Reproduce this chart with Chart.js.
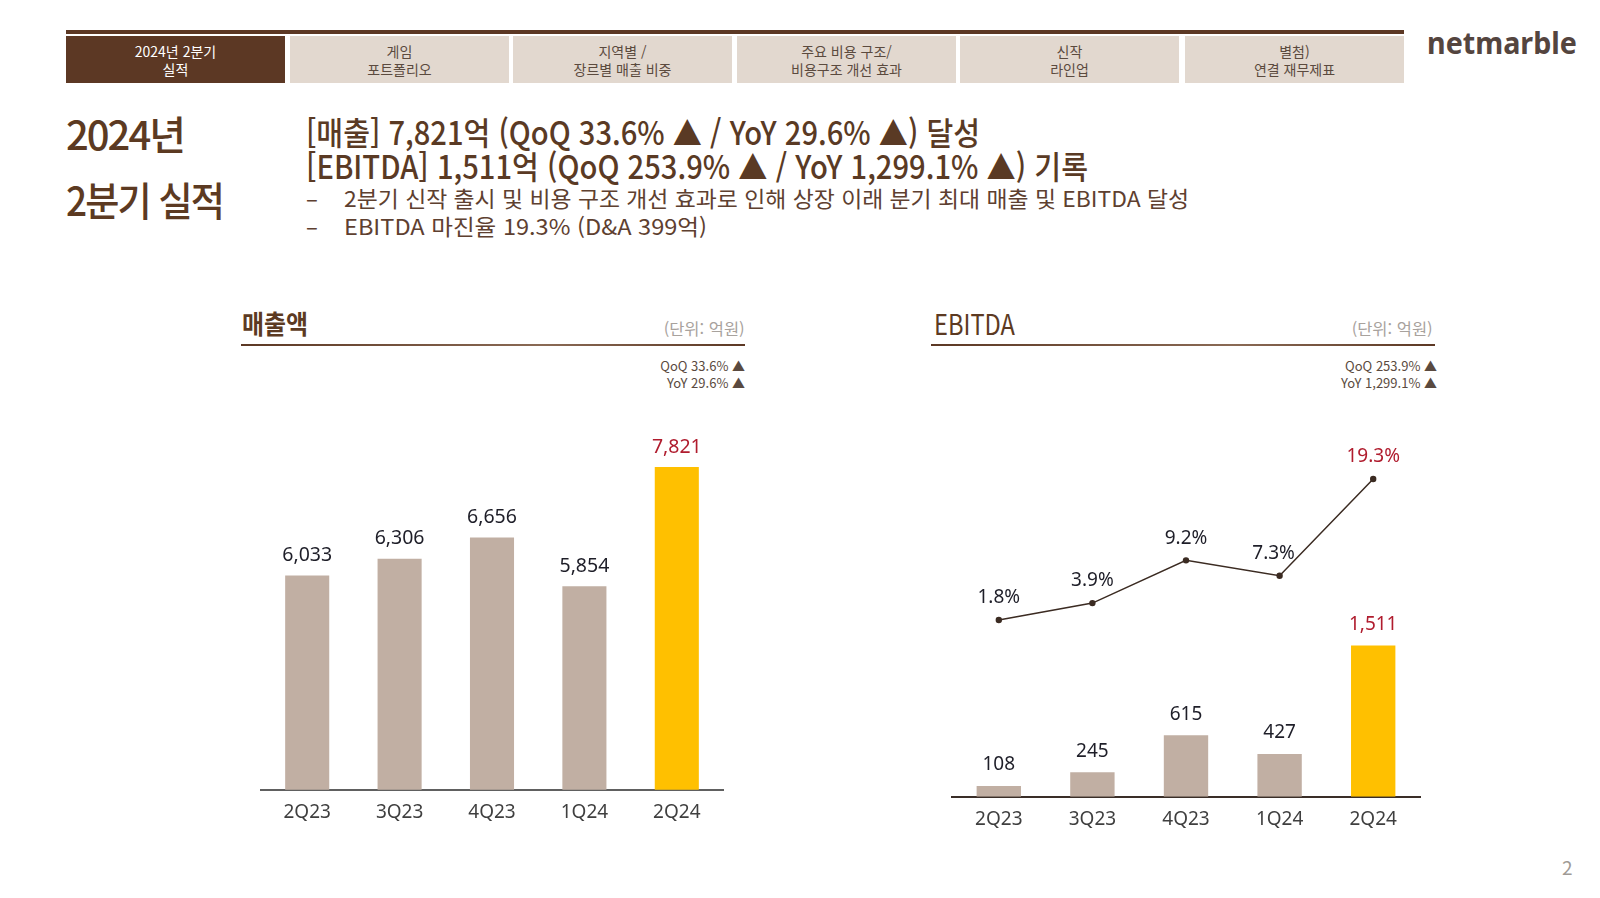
<!DOCTYPE html>
<html lang="ko">
<head>
<meta charset="utf-8">
<script src="https://cdn.jsdelivr.net/npm/chart.js@4.4.1/dist/chart.umd.min.js"></script>
<style>
  html, body { margin: 0; padding: 0; background: #fff; }
  #stage { position: relative; width: 1600px; height: 898px; overflow: hidden; background: #fff;
           font-family: "Noto Sans CJK KR", "Noto Sans", sans-serif; }
  .abs { position: absolute; white-space: nowrap; }
  .fit { display: inline-block; transform-origin: left center; }
  .fitr { display: inline-block; transform-origin: right center; }
  .tab { position: absolute; top: 36px; height: 47px; width: 219px; background: #e2d8cf; color: #5b4a3e;
         font-size: 14px; line-height: 18px; text-align: center; display: flex; align-items: center; justify-content: center; }
  .tab.active { background: #5c3824; color: #fff; }
  canvas { position: absolute; }
</style>
</head>
<body>
<div id="stage">
  <div class="abs" style="left:66px;top:30px;width:1338px;height:4px;background:#5c3824"></div>
  <div class="tab active" style="left:66px">2024년 2분기<br>실적</div>
  <div class="tab" style="left:290px">게임<br>포트폴리오</div>
  <div class="tab" style="left:513px">지역별 /<br>장르별 매출 비중</div>
  <div class="tab" style="left:737px">주요 비용 구조/<br>비용구조 개선 효과</div>
  <div class="tab" style="left:960px">신작<br>라인업</div>
  <div class="tab" style="left:1185px">별첨)<br>연결 재무제표</div>

  <div class="abs" style="left:1427px;top:24px;line-height:38px;font-size:30px;font-weight:700;color:#54453f;font-family:'Noto Sans',sans-serif">
    <span class="fit" data-w="150">netmarble</span></div>

  <div class="abs" style="left:66px;top:109px;line-height:48px;font-size:40px;font-weight:500;color:#5c3a22;letter-spacing:-2px">
    <span class="fit" data-w="118">2024년</span></div>
  <div class="abs" style="left:66px;top:175px;line-height:48px;font-size:40px;font-weight:500;color:#5c3a22;letter-spacing:-2px">
    <span class="fit" data-w="157">2분기 실적</span></div>

  <div class="abs" style="left:306px;top:111px;line-height:40px;font-size:32px;font-weight:500;color:#5a3a24">
    <span class="fit" data-w="674">[매출] 7,821억 (QoQ 33.6% ▲ / YoY 29.6% ▲) 달성</span></div>
  <div class="abs" style="left:306px;top:145px;line-height:40px;font-size:32px;font-weight:500;color:#5a3a24">
    <span class="fit" data-w="782">[EBITDA] 1,511억 (QoQ 253.9% ▲ / YoY 1,299.1% ▲) 기록</span></div>

  <div class="abs" style="left:306px;top:183px;line-height:28px;font-size:22px;color:#5e4030">–</div>
  <div class="abs" style="left:344px;top:183px;line-height:28px;font-size:22px;color:#5e4030">
    <span class="fit" data-w="845">2분기 신작 출시 및 비용 구조 개선 효과로 인해 상장 이래 분기 최대 매출 및 EBITDA 달성</span></div>
  <div class="abs" style="left:306px;top:211px;line-height:28px;font-size:22px;color:#5e4030">–</div>
  <div class="abs" style="left:344px;top:211px;line-height:28px;font-size:22px;color:#5e4030">
    <span class="fit" data-w="363">EBITDA 마진율 19.3% (D&amp;A 399억)</span></div>

  <!-- left chart header -->
  <div class="abs" style="left:242px;top:306px;line-height:34px;font-size:26px;font-weight:700;color:#5c3a22">
    <span class="fit" data-w="66">매출액</span></div>
  <div class="abs" style="right:855px;top:317px;line-height:22px;font-size:16px;color:#a8a29d;text-align:right">
    <span class="fitr" data-w="81">(단위: 억원)</span></div>
  <div class="abs" style="left:241px;top:344px;width:504px;height:2px;background:linear-gradient(90deg,#5c3824,#8a6a55 60%,#5c3824)"></div>
  <div class="abs" style="right:855px;top:357px;line-height:17px;font-size:13px;color:#5a4a40;text-align:right">QoQ 33.6% ▲<br>YoY 29.6% ▲</div>

  <!-- right chart header -->
  <div class="abs" style="left:934px;top:305px;line-height:36px;font-size:28px;font-weight:400;color:#5c3a22">
    <span class="fit" data-w="81">EBITDA</span></div>
  <div class="abs" style="right:167px;top:317px;line-height:22px;font-size:16px;color:#a8a29d;text-align:right">
    <span class="fitr" data-w="81">(단위: 억원)</span></div>
  <div class="abs" style="left:931px;top:344px;width:504px;height:2px;background:linear-gradient(90deg,#5c3824,#8a6a55 60%,#5c3824)"></div>
  <div class="abs" style="right:163px;top:357px;line-height:17px;font-size:13px;color:#5a4a40;text-align:right">QoQ 253.9% ▲<br>YoY 1,299.1% ▲</div>

  <div class="abs" style="left:1562px;top:855px;line-height:24px;font-size:19px;color:#a09a95">2</div>

  <canvas id="revChart" width="482" height="419" style="left:251px;top:421px"></canvas>
  <canvas id="ebitdaChart" width="508" height="426" style="left:932px;top:421px"></canvas>
</div>

<script>
// ---- data ----
const categories = ['2Q23', '3Q23', '4Q23', '1Q24', '2Q24'];
const revenue = [6033, 6306, 6656, 5854, 7821];
const ebitda = [108, 245, 615, 427, 1511];
const ebitdaMargin = [1.8, 3.9, 9.2, 7.3, 19.3];

// ---- text fitting ----
document.querySelectorAll('.fit, .fitr').forEach(el => {
  const w = parseFloat(el.dataset.w);
  const actual = el.getBoundingClientRect().width;
  if (actual > 0) el.style.transform = 'scaleX(' + (w / actual) + ')';
});

const FONT = '"Noto Sans", "Noto Sans CJK KR", sans-serif';
const TAN = '#c1afa3', GOLD = '#ffc000', RED = '#b01c2e', DARK = '#1e1e28';
const barColors = categories.map((c, i) => i === categories.length - 1 ? GOLD : TAN);
const labelColors = categories.map((c, i) => i === categories.length - 1 ? RED : DARK);

const valueLabels = {
  id: 'valueLabels',
  afterDatasetsDraw(chart) {
    const ctx = chart.ctx;
    chart.data.datasets.forEach((ds, i) => {
      const meta = chart.getDatasetMeta(i);
      if (!ds.vl) return;
      meta.data.forEach((el, j) => {
        ctx.save();
        ctx.font = ds.vl.size + 'px ' + FONT;
        ctx.fillStyle = ds.vl.colors[j];
        ctx.textAlign = 'center';
        ctx.textBaseline = 'middle';
        ctx.fillText(ds.vl.fmt(ds.data[j]), el.x + (ds.vl.dx ? ds.vl.dx[j] : 0), el.y - ds.vl.offset);
        ctx.restore();
      });
    });
  }
};

const fmtNum = v => v.toLocaleString('en-US');
const fmtPct = v => v.toFixed(1) + '%';

function xScale(borderColor) {
  return {
    grid: { display: false, drawTicks: false },
    border: { display: true, color: borderColor, width: 2 },
    ticks: { color: '#3f3f3f', font: { size: 19, family: FONT }, padding: 11 }
  };
}

const common = {
  responsive: false,
  animation: false,
  devicePixelRatio: 1,
  layout: { padding: { top: 20, bottom: 5.5, left: 10, right: 10 } },
  plugins: { legend: { display: false }, tooltip: { enabled: false } }
};

new Chart(document.getElementById('revChart'), {
  type: 'bar',
  data: {
    labels: categories,
    datasets: [{
      data: revenue,
      backgroundColor: barColors,
      barPercentage: 0.477,
      categoryPercentage: 1,
      vl: { size: 19.5, offset: 20, colors: labelColors, fmt: fmtNum }
    }]
  },
  options: Object.assign({}, common, {
    scales: {
      x: xScale('#606060'),
      y: { display: false, min: 2500, max: 8249 }
    }
  }),
  plugins: [valueLabels]
});

new Chart(document.getElementById('ebitdaChart'), {
  type: 'bar',
  data: {
    labels: categories,
    datasets: [{
      type: 'line',
      data: ebitdaMargin,
      yAxisID: 'y2',
      order: 0,
      borderColor: '#3b2b22',
      borderWidth: 1.5,
      pointRadius: 3.2,
      pointBackgroundColor: '#3b2b22',
      pointBorderWidth: 0,
      tension: 0,
      vl: { size: 19, offset: 22, colors: labelColors, fmt: fmtPct, dx: [0, 0, 0, -6, 0] }
    }, {
      data: ebitda,
      yAxisID: 'y',
      order: 1,
      backgroundColor: barColors,
      barPercentage: 0.474,
      categoryPercentage: 1,
      vl: { size: 19, offset: 21, colors: labelColors, fmt: fmtNum }
    }]
  },
  options: Object.assign({}, common, {
    layout: { padding: { top: 20, bottom: 5.5, left: 20, right: 20 } },
    scales: {
      x: xScale('#3a2e28'),
      y: { display: false, min: 0, max: 3557 },
      y2: { display: false, position: 'right', min: -20.12, max: 24.01 }
    }
  }),
  plugins: [valueLabels]
});
</script>
</body>
</html>
